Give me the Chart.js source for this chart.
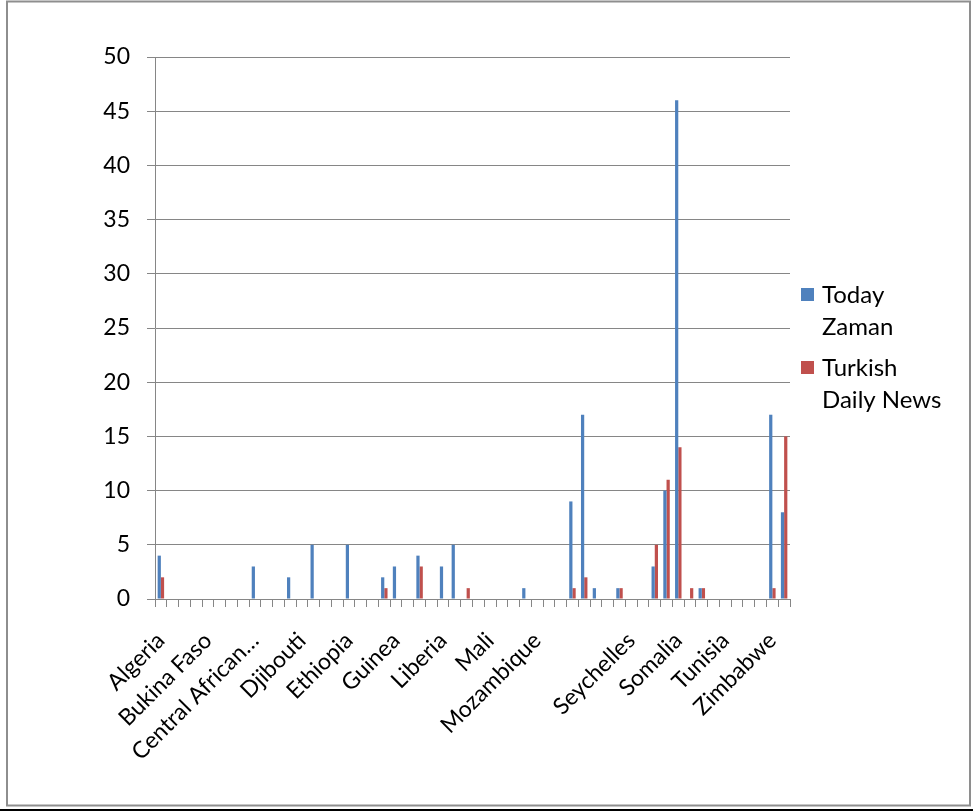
<!DOCTYPE html>
<html>
<head>
<meta charset="utf-8">
<script src="https://cdn.jsdelivr.net/npm/chart.js@4/dist/chart.umd.min.js"></script>
<style>
  html, body { margin: 0; padding: 0; background: #fff; }
  #wrap { position: relative; width: 973px; height: 811px; }
</style>
</head>
<body>
<div id="wrap"><canvas id="c" width="973" height="811"></canvas></div>
<script>
const categories = [
  "Algeria","Angola","Benin","Botswana","Bukina Faso","Burundi","Cameroon","Cape Verde",
  "Central African Republic","Chad","Comoros","Congo","Djibouti","Egypt","Equatorial Guinea","Eritrea",
  "Ethiopia","Gabon","Gambia","Ghana","Guinea","Guinea-Bissau","Kenya","Lesotho",
  "Liberia","Libya","Madagascar","Malawi","Mali","Mauritania","Mauritius","Morocco",
  "Mozambique","Namibia","Niger","Nigeria","","Rwanda","Sao Tome and Principe","Senegal",
  "Seychelles","Sierra Leone","South Africa","Sudan","Somalia","South Sudan","Swaziland","Tanzania",
  "Tunisia","Togo","Uganda","Zambia","Zimbabwe","Africa"
];
const todayZaman = [
  4,0,0,0,0,0,0,0,
  3,0,0,2,0,5,0,0,
  5,0,0,2,3,0,4,0,
  3,5,0,0,0,0,0,1,
  0,0,0,9,17,1,0,1,
  0,0,3,10,46,0,1,0,
  0,0,0,0,17,8
];
const turkishDailyNews = [
  2,0,0,0,0,0,0,0,
  0,0,0,0,0,0,0,0,
  0,0,0,1,0,0,3,0,
  0,0,1,0,0,0,0,0,
  0,0,0,1,2,0,0,1,
  0,0,5,11,14,1,1,0,
  0,0,0,0,1,15
];
const seriesNames = ["Today Zaman", "Turkish Daily News"];
const legendLines = [["Today", "Zaman"], ["Turkish", "Daily News"]];
const yTicks = [0,5,10,15,20,25,30,35,40,45,50];

const FONT = "Lato, 'Open Sans', sans-serif";

function shortLabel(s) {
  return s.length > 18 ? s.slice(0, 15) + "\u2026" : s;
}

const framePlugin = {
  id: 'frame',
  beforeDraw(chart) {
    const ctx = chart.ctx;
    ctx.save();
    ctx.fillStyle = '#fff';
    ctx.fillRect(0, 0, chart.width, chart.height);
    ctx.strokeStyle = '#8e8e8e';
    ctx.lineWidth = 2;
    ctx.strokeRect(7, 1.5, 963, 804);
    ctx.strokeStyle = '#000';
    ctx.lineWidth = 2;
    ctx.beginPath();
    ctx.moveTo(0, 810);
    ctx.lineTo(973, 810);
    ctx.stroke();
    ctx.restore();
  }
};

const legendPlugin = {
  id: 'wrapLegend',
  afterDraw(chart) {
    const ctx = chart.ctx;
    ctx.save();
    ctx.font = "24px " + FONT;
    ctx.textBaseline = 'alphabetic';
    ctx.textAlign = 'left';
    const starts = [303, 376];
    chart.data.datasets.forEach((ds, i) => {
      const y0 = starts[i];
      ctx.fillStyle = ds.backgroundColor;
      ctx.fillRect(801, y0 - 15, 13, 13);
      ctx.fillStyle = '#000';
      legendLines[i].forEach((t, j) => ctx.fillText(t, 822, y0 + j * 32));
    });
    ctx.restore();
  }
};

new Chart(document.getElementById('c'), {
  type: 'bar',
  data: {
    labels: categories,
    datasets: [
      { label: seriesNames[0], data: todayZaman, backgroundColor: '#4F81BD',
        categoryPercentage: 0.55, barPercentage: 1.0, borderWidth: 0 },
      { label: seriesNames[1], data: turkishDailyNews, backgroundColor: '#C0504D',
        categoryPercentage: 0.55, barPercentage: 1.0, borderWidth: 0 }
    ]
  },
  options: {
    responsive: false,
    animation: false,
    devicePixelRatio: 1,
    layout: { padding: { left: 7, right: 183, top: 57, bottom: 6 } },
    plugins: {
      legend: { display: false },
      tooltip: { enabled: false }
    },
    scales: {
      x: {
        offset: true,
        grid: { offset: true, drawOnChartArea: false, drawTicks: true, tickLength: 8, color: '#868686', lineWidth: 1 },
        border: { display: true, color: '#868686', width: 1 },
        ticks: {
          autoSkip: false,
          maxRotation: 45,
          minRotation: 45,
          padding: 20,
          color: '#000',
          font: { family: FONT, size: 23 },
          callback: function(v, i) { return i % 4 === 0 ? shortLabel(categories[i]) : ''; }
        },
        afterFit(scale) { scale.height = 206; }
      },
      y: {
        min: 0, max: 50,
        afterBuildTicks(scale) { scale.ticks = yTicks.map(v => ({ value: v })); },
        grid: { color: '#868686', lineWidth: 1, tickLength: 8, drawTicks: true },
        border: { display: true, color: '#868686', width: 1 },
        ticks: {
          padding: 17,
          color: '#000',
          font: { family: FONT, size: 23 }
        },
        afterFit(scale) { scale.width = 148; }
      }
    }
  },
  plugins: [framePlugin, legendPlugin]
});
</script>
</body>
</html>
